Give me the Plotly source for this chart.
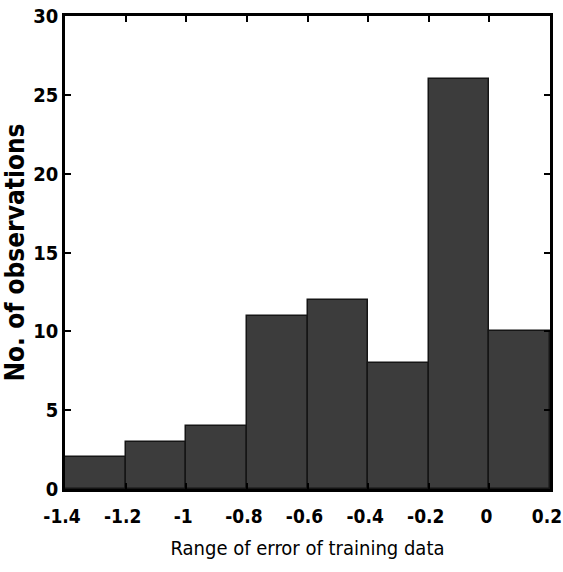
import plotly.graph_objects as go

bin_edges = [-1.4, -1.2, -1.0, -0.8, -0.6, -0.4, -0.2, 0.0, 0.2]
counts = [2, 3, 4, 11, 12, 8, 26, 10]
x_ticks = [-1.4, -1.2, -1.0, -0.8, -0.6, -0.4, -0.2, 0.0, 0.2]
x_tick_labels = ["-1.4", "-1.2", "-1", "-0.8", "-0.6", "-0.4", "-0.2", "0", "0.2"]
y_ticks = [0, 5, 10, 15, 20, 25, 30]

centers = [(a + b) / 2 for a, b in zip(bin_edges[:-1], bin_edges[1:])]
widths = [b - a for a, b in zip(bin_edges[:-1], bin_edges[1:])]

FONT = "DejaVu Sans Condensed, Liberation Sans Narrow, Arial Narrow, Liberation Sans, sans-serif"

fig = go.Figure(go.Bar(
    x=centers, y=counts, width=widths,
    marker=dict(color="#3c3c3c", line=dict(color="#151515", width=1.5)),
))

axis_common = dict(
    showline=True, linecolor="black", linewidth=2.5, mirror="ticks",
    ticks="inside", ticklen=6, tickwidth=2, tickcolor="black",
    showgrid=False, zeroline=False, automargin=False,
    ticklabeloverflow="allow",
)

fig.update_layout(
    width=563, height=572,
    margin=dict(l=65, r=13, t=16, b=83, autoexpand=False),
    paper_bgcolor="white", plot_bgcolor="white",
    showlegend=False, bargap=0,
    font=dict(family=FONT, color="black"),
    xaxis=dict(
        range=[bin_edges[0], bin_edges[-1]],
        tickvals=x_ticks, ticktext=x_tick_labels,
        tickfont=dict(family=FONT, size=19, color="black", weight="bold"),
        ticklabelshift=-3, ticklabelstandoff=8,
        title=dict(text="Range of error of training data",
                   font=dict(family=FONT, size=20, color="black"), standoff=16),
        **axis_common,
    ),
    yaxis=dict(
        range=[0, 30], tickvals=y_ticks,
        tickfont=dict(family=FONT, size=20, color="black", weight="bold"),
        title=dict(text="No. of observations",
                   font=dict(family=FONT, size=26, color="black", weight="bold"), standoff=4),
        **axis_common,
    ),
)

fig.write_html(
    "out.html",
    config={"displayModeBar": False},
    post_script="document.body.style.margin='0';document.body.style.overflow='hidden';",
)
